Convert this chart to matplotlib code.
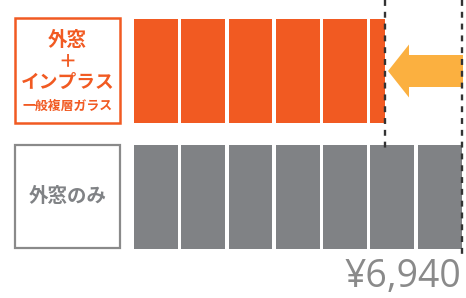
import numpy as np
import matplotlib.pyplot as plt
from matplotlib.patches import Rectangle, FancyArrow

plt.rcParams['font.family'] = ['Noto Sans CJK JP', 'DejaVu Sans']

# data (yen)
categories = ["外窓＋インプラス", "外窓のみ"]
values = [5310, 6940]
colors = ["#f15a22", "#808285"]
block = 1000
price_label = "¥6,940"

W, H = 466, 298
fig = plt.figure(figsize=(W / 100, H / 100), dpi=100)
ax = fig.add_axes([0, 0, 1, 1])

# scale: 0 yen at 134px, 1000 yen = 47.26px ; rows 125.5px apart, first at 71px
x0, ppy = 134, 0.04726
y0, ppr = 71, 125.5
ax.set_xlim(-x0 / ppy, (W - x0) / ppy)
ax.set_ylim((H - y0) / ppr, -y0 / ppr)
ax.axis("off")


def px2x(p):
    return (p - x0) / ppy


def px2y(p):
    return (p - y0) / ppr


gap = 3.5 / ppy
bar_h = 104 / ppr
for i, (v, c) in enumerate(zip(values, colors)):
    starts = np.arange(0, v, block)
    for s in starts:
        w = min(block, v - s)
        if w == block:
            w -= gap
        ax.barh(i, w, left=s, height=bar_h, color=c, linewidth=0)

# dashed guide lines at bar ends
ax.plot([values[0]] * 2, [px2y(0), px2y(148)], ls=(0, (2.5, 2.5)), color="#333333", lw=1.7)
ax.plot([values[1]] * 2, [px2y(0), px2y(258)], ls=(0, (2.5, 2.5)), color="#333333", lw=1.7)

# arrow pointing at the shorter bar
tail = px2x(463)
tip = px2x(388)
ax.add_patch(FancyArrow(tail, 0, tip - tail, 0, width=32 / ppr, head_width=53 / ppr,
                        head_length=px2x(409) - px2x(388), length_includes_head=True,
                        color="#fbb040", lw=0))

# label boxes
ax.add_patch(Rectangle((px2x(15), px2y(18)), px2x(120) - px2x(15), px2y(123) - px2y(18),
                       fill=False, ec="#f15a22", lw=1.8))
ax.add_patch(Rectangle((px2x(15), px2y(145)), px2x(120) - px2x(15), px2y(248) - px2y(145),
                       fill=False, ec="#8a8a8a", lw=1.6))

cx = px2x(67.5)
ax.text(cx, px2y(40), "外窓", ha="center", va="center", fontsize=14, weight="bold", color="#f15a22")
ax.text(cx, px2y(61), "＋", ha="center", va="center", fontsize=13, weight="bold", color="#f15a22")
ax.text(cx, px2y(82), "インプラス", ha="center", va="center", fontsize=13.5, weight="bold", color="#f15a22")
ax.text(cx, px2y(106), "一般複層ガラス", ha="center", va="center", fontsize=9.3, weight="bold", color="#f15a22")
ax.text(cx, px2y(196), "外窓のみ", ha="center", va="center", fontsize=14, weight="bold", color="#808285")

ax.text(px2x(461), px2y(277), price_label, ha="right", va="center", fontsize=27,
        color="#8a8a8a", family=["Open Sans", "DejaVu Sans"])

fig.savefig("out.png", dpi=100)
